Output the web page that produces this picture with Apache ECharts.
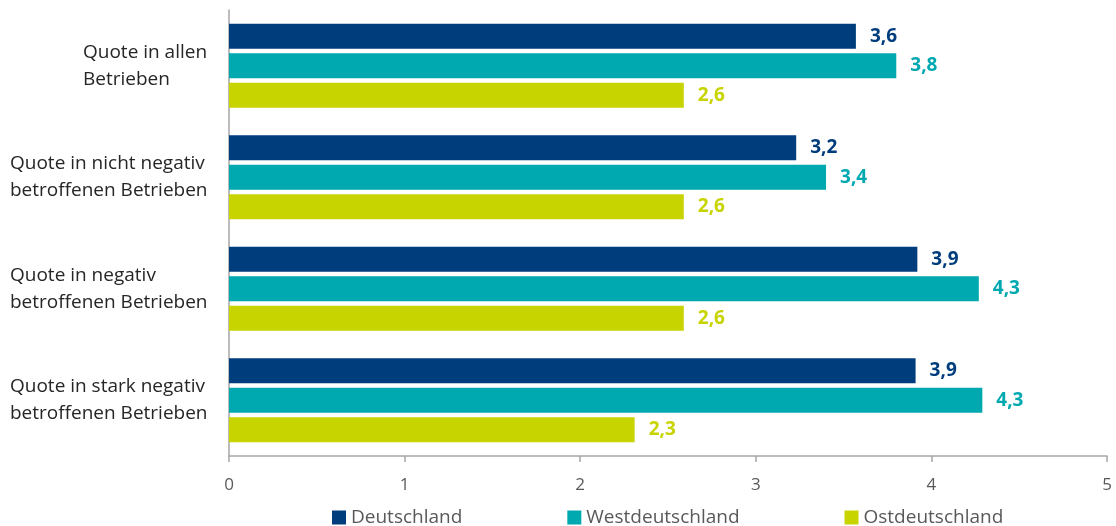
<!DOCTYPE html>
<html>
<head>
<meta charset="utf-8">
<script src="https://cdn.jsdelivr.net/npm/echarts@6/dist/echarts.min.js"></script>
<style>html,body{margin:0;padding:0;background:#fff;}#c{width:1116px;height:526px;}</style>
</head>
<body>
<div id="c"></div>
<script>
const categories = [
  "Quote in allen\nBetrieben",
  "Quote in nicht negativ\nbetroffenen Betrieben",
  "Quote in negativ\nbetroffenen Betrieben",
  "Quote in stark negativ\nbetroffenen Betrieben"
];
const seriesNames = ["Deutschland", "Westdeutschland", "Ostdeutschland"];
const deutschland = [3.57, 3.23, 3.92, 3.91];
const westdeutschland = [3.80, 3.40, 4.27, 4.29];
const ostdeutschland = [2.59, 2.59, 2.59, 2.31];
const xTicks = [0, 1, 2, 3, 4, 5];

const colors = ["#003d7c", "#00a9b0", "#c8d400"];
const font = "'Open Sans', 'Noto Sans', sans-serif";
const dataSets = [deutschland, westdeutschland, ostdeutschland];

const chart = echarts.init(document.getElementById('c'), null, {renderer: 'canvas'});
chart.setOption({
  animation: false,
  color: colors,
  grid: {left: 229, right: 9, top: 10, bottom: 70, containLabel: false},
  legend: {
    top: 503, left: 327,
    itemWidth: 14, itemHeight: 14, itemGap: 105,
    icon: 'rect',
    textStyle: {fontFamily: font, fontSize: 19, color: '#595959'},
    data: seriesNames
  },
  xAxis: {
    type: 'value', min: xTicks[0], max: xTicks[xTicks.length - 1], interval: 1,
    splitLine: {show: false},
    axisLine: {show: true, lineStyle: {color: '#a6a6a6', width: 1.5}},
    axisTick: {show: true, length: 6, lineStyle: {color: '#a6a6a6', width: 1.5}},
    axisLabel: {fontFamily: font, fontSize: 17, color: '#595959', margin: 21}
  },
  yAxis: {
    type: 'category', data: categories, inverse: true,
    axisLine: {show: true, lineStyle: {color: '#a6a6a6', width: 1.5}},
    axisTick: {show: false},
    axisLabel: {
      fontFamily: font, fontSize: 19, color: '#262626', lineHeight: 27,
      align: 'left', margin: 219,
      formatter: function (v, i) {
        if (i === 0) return v.split('\n').map(l => '{o|' + l + '}').join('\n');
        return v;
      },
      rich: {o: {padding: [0, 0, 0, 73], fontFamily: font, fontSize: 19, color: '#262626', lineHeight: 27}}
    }
  },
  series: seriesNames.map((name, k) => ({
    name: name, type: 'bar', data: dataSets[k],
    barWidth: 25, barGap: '18%',
    itemStyle: {color: colors[k]},
    label: {
      show: true, position: 'right', distance: 14,
      fontFamily: font, fontSize: 19, fontWeight: 'bold', color: colors[k],
      formatter: p => p.value.toFixed(1).replace('.', ',')
    }
  }))
});
</script>
</body>
</html>
